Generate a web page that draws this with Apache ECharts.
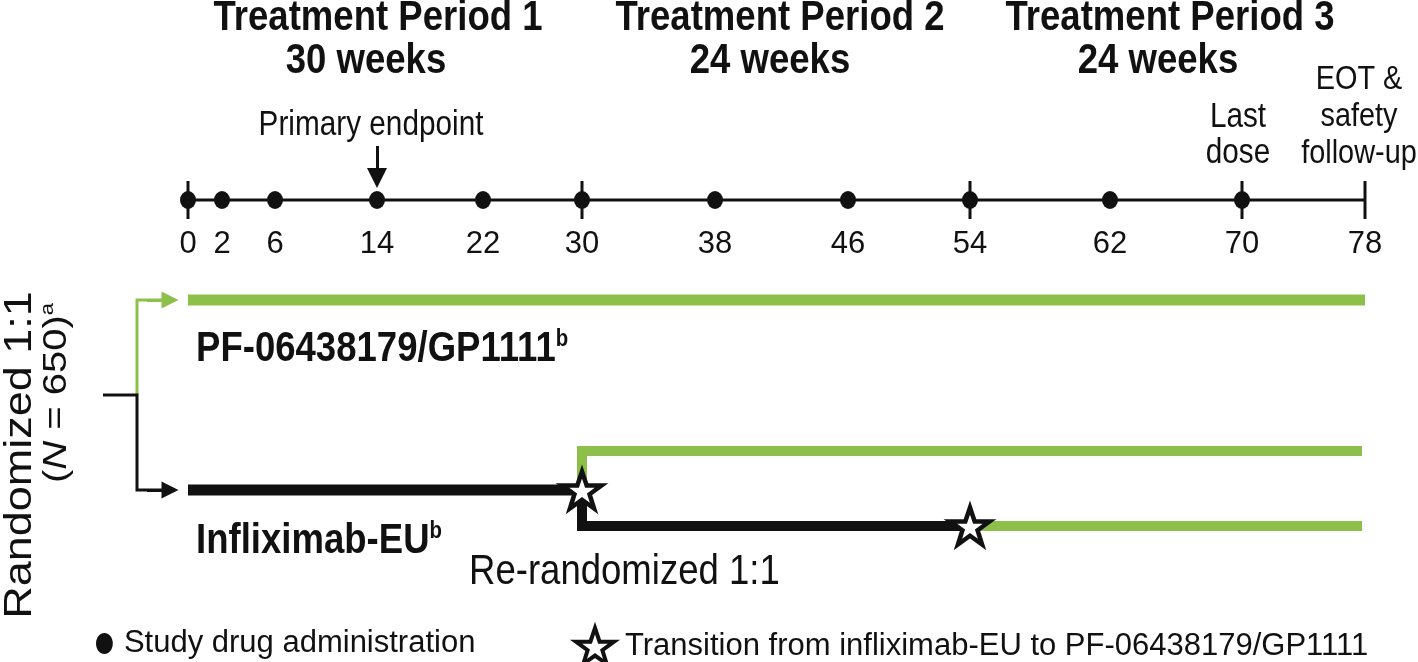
<!DOCTYPE html>
<html>
<head>
<meta charset="utf-8">
<script src="https://cdn.jsdelivr.net/npm/echarts@6/dist/echarts.min.js"></script>
<style>html,body{margin:0;padding:0;background:#fff}#c{width:1418px;height:662px}</style>
</head>
<body>
<div id="c"></div>
<script>
// ---- data ----
const weeks = [0, 2, 6, 14, 22, 30, 38, 46, 54, 62, 70, 78];
// schematic position of each week along the drawn (non-linear) timeline
const weekPos = [0, 34, 87, 189, 295, 394, 527, 660, 782, 922, 1054, 1177];
const doseWeeks = [0, 2, 6, 14, 22, 30, 38, 46, 54, 62, 70];
const barWeeks = [0, 30, 54, 70, 78];
const primaryEndpointWeek = 14;
const switchWeek1 = 30;   // re-randomization / first transition
const switchWeek2 = 54;   // second transition
const endWeek = 78;
const periodTitles = ['Treatment Period 1', 'Treatment Period 2', 'Treatment Period 3'];
const periodDurations = ['30 weeks', '24 weeks', '24 weeks'];
// row levels (vertical layout rows of the schematic)
const ROW = { timeline: 200, tickLabel: 244, pf: 300, stem: 395, switchArm: 451, ifx: 490, ifxCont: 526 };
const BRANCH = { start: -85, split: -51, tip: -18 };

const pos = w => weekPos[weeks.indexOf(w)];
const GREEN = '#8cc04b', BLACK = '#111111';
const FONT = '"Liberation Sans", Arial, Helvetica, sans-serif';
const SX = 0.85; // horizontal compression of the source artwork
const STAR = 'path://M50,0 L61.8,35.3 L99,35.3 L69,57.3 L80.3,93 L50,71 L19.7,93 L31,57.3 L1,35.3 L38.2,35.3 Z';
const ELLIPSE = 'path://M40,0 C62,0 80,22 80,50 C80,78 62,100 40,100 C18,100 0,78 0,50 C0,22 18,0 40,0 Z';

const chart = echarts.init(document.getElementById('c'), null, { renderer: 'canvas' });

const txt = (x, y, text, size, opts = {}) => Object.assign({
  type: 'text', x, y, scaleX: SX,
  style: Object.assign({ text, font: (opts.bold ? 'bold ' : '') + size + 'px ' + FONT, fill: BLACK,
    align: opts.align || 'center', verticalAlign: 'middle' }, opts.style || {})
}, opts.el || {});

const path = (coords, color, width, z) => ({
  type: 'lines', coordinateSystem: 'cartesian2d', polyline: true, clip: false, silent: true, z: z || 3,
  data: [{ coords }], lineStyle: { color, width, opacity: 1, cap: 'butt', join: 'miter' }
});

const arrowSeg = (from, to, color, size) => ({
  type: 'lines', coordinateSystem: 'cartesian2d', clip: false, silent: true, z: 5,
  symbol: ['none', 'triangle'], symbolSize: size,
  data: [{ coords: [from, to] }],
  lineStyle: { color, width: 3, opacity: 1 }
});

const option = {
  backgroundColor: '#ffffff',
  animation: false,
  grid: { left: 188, right: 53, top: 0, bottom: 0 },
  xAxis: { type: 'value', min: 0, max: pos(endWeek), show: false },
  yAxis: { type: 'value', min: 0, max: 662, inverse: true, show: false },
  legend: [
    { data: [{ name: 'Study drug administration', icon: ELLIPSE }], left: 91, top: 623, itemWidth: 17, itemHeight: 21, selectedMode: false,
      textStyle: { fontSize: 31, color: BLACK, fontFamily: FONT, padding: [0, 0, 0, 6] } },
    { data: [{ name: 'Transition from infliximab-EU to PF-06438179/GP1111', icon: STAR,
               itemStyle: { color: '#fff', borderColor: BLACK, borderWidth: 4 } }],
      left: 569, top: 621, itemWidth: 38, itemHeight: 38, selectedMode: false,
      textStyle: { fontSize: 31, color: BLACK, fontFamily: FONT, padding: [0, 0, 0, 6] } }
  ],
  series: [
    path([[pos(0), ROW.timeline], [pos(endWeek), ROW.timeline]], BLACK, 3, 2),
    { type: 'scatter', clip: false, symbol: 'rect', symbolSize: [3, 38], silent: true, z: 3,
      data: barWeeks.map(w => [pos(w), ROW.timeline]), itemStyle: { color: BLACK, opacity: 1 } },
    { name: 'Study drug administration', type: 'scatter', clip: false, symbol: 'circle', symbolSize: [16, 18], z: 4,
      data: doseWeeks.map(w => [pos(w), ROW.timeline]), itemStyle: { color: BLACK, opacity: 1 } },
    { type: 'scatter', clip: false, symbolSize: 0, silent: true,
      data: weeks.map(w => ({ value: [pos(w), ROW.tickLabel], week: w })),
      itemStyle: { opacity: 1 },
      label: { show: true, position: 'inside', formatter: p => String(p.data.week), fontSize: 31, color: BLACK, fontFamily: FONT } },
    // Primary endpoint arrow
    arrowSeg([pos(primaryEndpointWeek), 146], [pos(primaryEndpointWeek), 178], BLACK, [18, 20]),
    // arms
    path([[pos(0), ROW.pf], [pos(endWeek), ROW.pf]], GREEN, 11, 2),
    path([[pos(switchWeek1), ROW.ifx], [pos(switchWeek1), ROW.switchArm], [pos(endWeek) - 3, ROW.switchArm]], GREEN, 10, 2),
    path([[pos(switchWeek2), ROW.ifxCont], [pos(endWeek) - 3, ROW.ifxCont]], GREEN, 10, 2),
    path([[pos(0), ROW.ifx], [pos(switchWeek1), ROW.ifx]], BLACK, 11, 3),
    path([[pos(switchWeek1), ROW.ifx], [pos(switchWeek1), ROW.ifxCont], [pos(switchWeek2), ROW.ifxCont]], BLACK, 10, 3),
    // randomization branches
    path([[BRANCH.split, ROW.stem], [BRANCH.split, ROW.pf], [BRANCH.tip, ROW.pf]], GREEN, 3, 4),
    arrowSeg([BRANCH.split + 10, ROW.pf], [BRANCH.tip, ROW.pf], GREEN, [15, 17]),
    path([[BRANCH.start, ROW.stem], [BRANCH.split, ROW.stem], [BRANCH.split, ROW.ifx], [BRANCH.tip, ROW.ifx]], BLACK, 3, 4),
    arrowSeg([BRANCH.split + 10, ROW.ifx], [BRANCH.tip, ROW.ifx], BLACK, [15, 17]),
    // transitions
    { name: 'Transition from infliximab-EU to PF-06438179/GP1111', type: 'scatter', clip: false, z: 10,
      symbol: STAR, symbolSize: 39, symbolKeepAspect: true,
      data: [[pos(switchWeek1), ROW.ifx], [pos(switchWeek2), ROW.ifxCont]],
      itemStyle: { color: '#ffffff', borderColor: BLACK, borderWidth: 4.5, opacity: 1 } }
  ],
  graphic: [
    ...[378, 780, 1170].map((cx, i) => txt(cx, 18, periodTitles[i], 43, { bold: true })),
    ...[366, 770, 1158].map((cx, i) => txt(cx, 61, periodDurations[i], 43, { bold: true })),
    txt(371, 125, 'Primary endpoint', 35),
    txt(1238, 135, 'Last\ndose', 35, { style: { lineHeight: 36 } }),
    txt(1359, 117, 'EOT &\nsafety\nfollow-up', 34, { style: { lineHeight: 37 } }),
    txt(196, 349, 'PF-06438179/GP1111{s|b}', 43, { bold: true, align: 'left',
      style: { rich: { s: { font: 'bold 24px ' + FONT, fill: BLACK, verticalAlign: 'top', lineHeight: 44 } } } }),
    txt(196, 541, 'Infliximab-EU{s|b}', 43, { bold: true, align: 'left',
      style: { rich: { s: { font: 'bold 24px ' + FONT, fill: BLACK, verticalAlign: 'top', lineHeight: 44 } } } }),
    txt(469, 572, 'Re-randomized 1:1', 43, { align: 'left' }),
    txt(20, 455, 'Randomized 1:1', 45, { el: { rotation: Math.PI / 2, scaleX: 1, scaleY: SX } }),
    txt(57, 393, '({i|N} = 650){s|a}', 40, { el: { rotation: Math.PI / 2, scaleX: 1, scaleY: SX },
      style: { rich: { i: { font: 'italic 40px ' + FONT, fill: BLACK }, s: { font: '22px ' + FONT, fill: BLACK, verticalAlign: 'top', lineHeight: 44 } } } })
  ]
};
chart.setOption(option);
</script>
</body>
</html>
